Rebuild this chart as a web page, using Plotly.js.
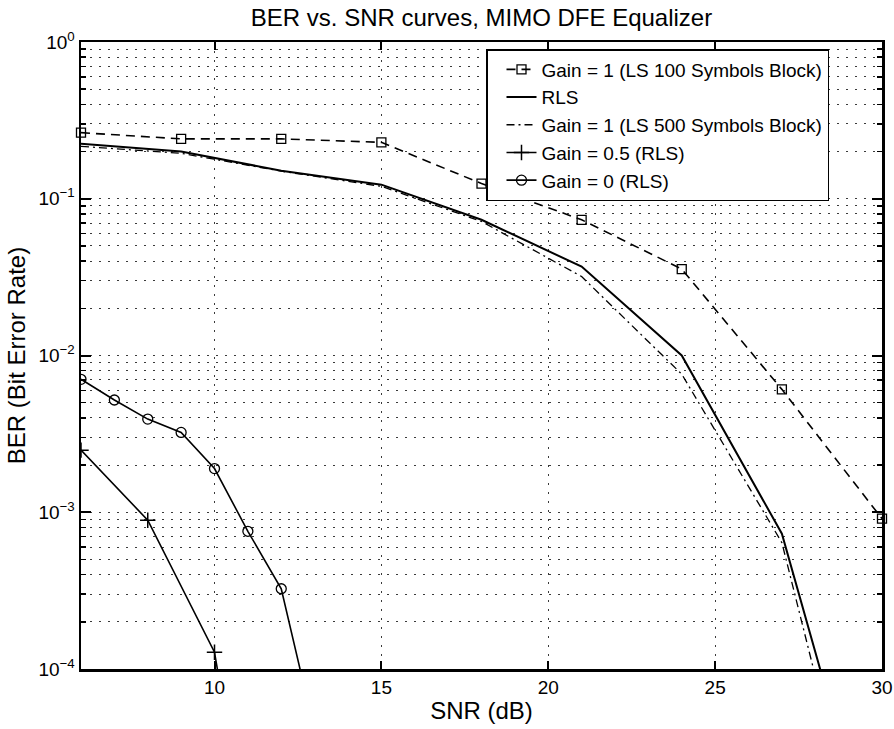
<!DOCTYPE html>
<html>
<head>
<meta charset="utf-8">
<script src="https://cdn.plot.ly/plotly-3.0.1.min.js"></script>
<style>
  html, body { margin: 0; padding: 0; background: #fff; }
  #chart { width: 894px; height: 729px; }
</style>
</head>
<body>
<div id="chart"></div>
<script>
// ---- data ----
var snrLS100 = [6, 9, 12, 15, 18, 21, 24, 27, 30];
var berLS100 = [0.264, 0.241, 0.241, 0.229, 0.125, 0.0734, 0.0356, 0.00608, 0.00091];

var snrRLS = [6, 9, 12, 15, 18, 21, 24, 27, 30];
var berRLS = [0.224, 0.200, 0.151, 0.123, 0.0734, 0.0369, 0.0100, 0.00073, 0.000004];

var snrLS500 = [6, 9, 12, 15, 18, 21, 24, 27, 30];
var berLS500 = [0.216, 0.195, 0.150, 0.120, 0.0716, 0.0319, 0.0076, 0.00064, 0.0000018];

var snrG05 = [6, 8, 10, 12];
var berG05 = [0.00249, 0.00089, 0.000128, 0.0000004];

var snrG0 = [6, 7, 8, 9, 10, 11, 12, 13];
var berG0 = [0.00705, 0.0052, 0.00393, 0.00323, 0.0019, 0.000756, 0.000325, 0.00004];

var seriesNames = [
  'Gain = 1 (LS 100 Symbols Block)',
  'RLS',
  'Gain = 1 (LS 500 Symbols Block)',
  'Gain = 0.5 (RLS)',
  'Gain = 0 (RLS)'
];

var xTickVals = [10, 15, 20, 25, 30];
var xTickText = ['10', '15', '20', '25', '30'];
var yTickVals = [1, 0.1, 0.01, 0.001, 0.0001];
var yTickText = ['10<sup>0</sup>', '10<sup>\u22121</sup>', '10<sup>\u22122</sup>', '10<sup>\u22123</sup>', '10<sup>\u22124</sup>'];

var titleText = 'BER vs. SNR curves, MIMO DFE Equalizer';
var xTitle = 'SNR (dB)';
var yTitle = 'BER (Bit Error Rate)';

// ---- minor log ticks (2..9 per decade) ----
var minorVals = [];
for (var e = -4; e < 0; e++) {
  for (var m = 2; m <= 9; m++) minorVals.push(m * Math.pow(10, e));
}

var FONT = 'Liberation Sans, Arial, Helvetica, sans-serif';
var lw = 1.6;

var traces = [
  {
    x: snrLS100, y: berLS100, name: seriesNames[0], type: 'scatter', mode: 'lines+markers',
    line: { color: '#000', width: lw, dash: '9px,6px' },
    marker: { symbol: 'square-open', size: 9, color: '#000', line: { width: 1.3 } },
    cliponaxis: false
  },
  {
    x: snrRLS, y: berRLS, name: seriesNames[1], type: 'scatter', mode: 'lines',
    line: { color: '#000', width: lw + 0.4 }
  },
  {
    x: snrLS500, y: berLS500, name: seriesNames[2], type: 'scatter', mode: 'lines',
    line: { color: '#000', width: lw - 0.3, dash: '8px,4px,2px,4px' }
  },
  {
    x: snrG05, y: berG05, name: seriesNames[3], type: 'scatter', mode: 'lines+markers',
    line: { color: '#000', width: lw },
    marker: { symbol: 'cross-thin-open', size: 11, color: '#000', line: { width: 1.5, color: '#000' } }
  },
  {
    x: snrG0, y: berG0, name: seriesNames[4], type: 'scatter', mode: 'lines+markers',
    line: { color: '#000', width: lw },
    marker: { symbol: 'circle-open', size: 10, color: '#000', line: { width: 1.3 } }
  }
];

var gridDash = '2px,7px';
var gridColor = '#3a3a3a';

var layout = {
  width: 894, height: 729,
  paper_bgcolor: '#fff', plot_bgcolor: '#fff',
  margin: { l: 81, r: 12, t: 42, b: 60 },
  font: { family: FONT, color: '#000', size: 18 },
  title: {
    text: titleText, font: { family: FONT, size: 24, color: '#000' },
    x: 0.5, xref: 'paper', xanchor: 'center',
    y: 1 - 18 / 729, yref: 'container', yanchor: 'middle'
  },
  xaxis: {
    type: 'linear', range: [6, 30],
    tickmode: 'array', tickvals: xTickVals, ticktext: xTickText,
    ticks: 'inside', ticklen: 8, tickwidth: 2, tickcolor: '#000',
    showline: true, linewidth: 2.5, linecolor: '#000', mirror: 'ticks',
    showgrid: true, gridcolor: gridColor, gridwidth: 1, griddash: gridDash,
    zeroline: false,
    tickfont: { family: FONT, size: 19, color: '#000' },
    title: { text: xTitle, font: { family: FONT, size: 24, color: '#000' }, standoff: 5 }
  },
  yaxis: {
    type: 'log', range: [-4, 0],
    tickmode: 'array', tickvals: yTickVals, ticktext: yTickText,
    ticks: 'inside', ticklen: 10, tickwidth: 2, tickcolor: '#000',
    showline: true, linewidth: 2.5, linecolor: '#000', mirror: 'ticks',
    showgrid: true, gridcolor: gridColor, gridwidth: 1, griddash: gridDash,
    zeroline: false,
    tickfont: { family: FONT, size: 19, color: '#000' },
    minor: {
      tickmode: 'array', tickvals: minorVals,
      ticks: 'inside', ticklen: 5, tickwidth: 1.5, tickcolor: '#000',
      showgrid: true, gridcolor: gridColor, gridwidth: 1, griddash: gridDash
    },
    title: { text: yTitle, font: { family: FONT, size: 24, color: '#000' }, standoff: 6 }
  },
  showlegend: true,
  legend: {
    x: (486 - 81) / 801, y: 1 - (49 - 42) / 627, xanchor: 'left', yanchor: 'top',
    bgcolor: '#fff', bordercolor: '#000', borderwidth: 1.5,
    font: { family: FONT, size: 19, color: '#000' },
    indentation: 14, tracegroupgap: 0
  }
};

Plotly.newPlot('chart', traces, layout, { displayModeBar: false, staticPlot: true });
</script>
</body>
</html>
